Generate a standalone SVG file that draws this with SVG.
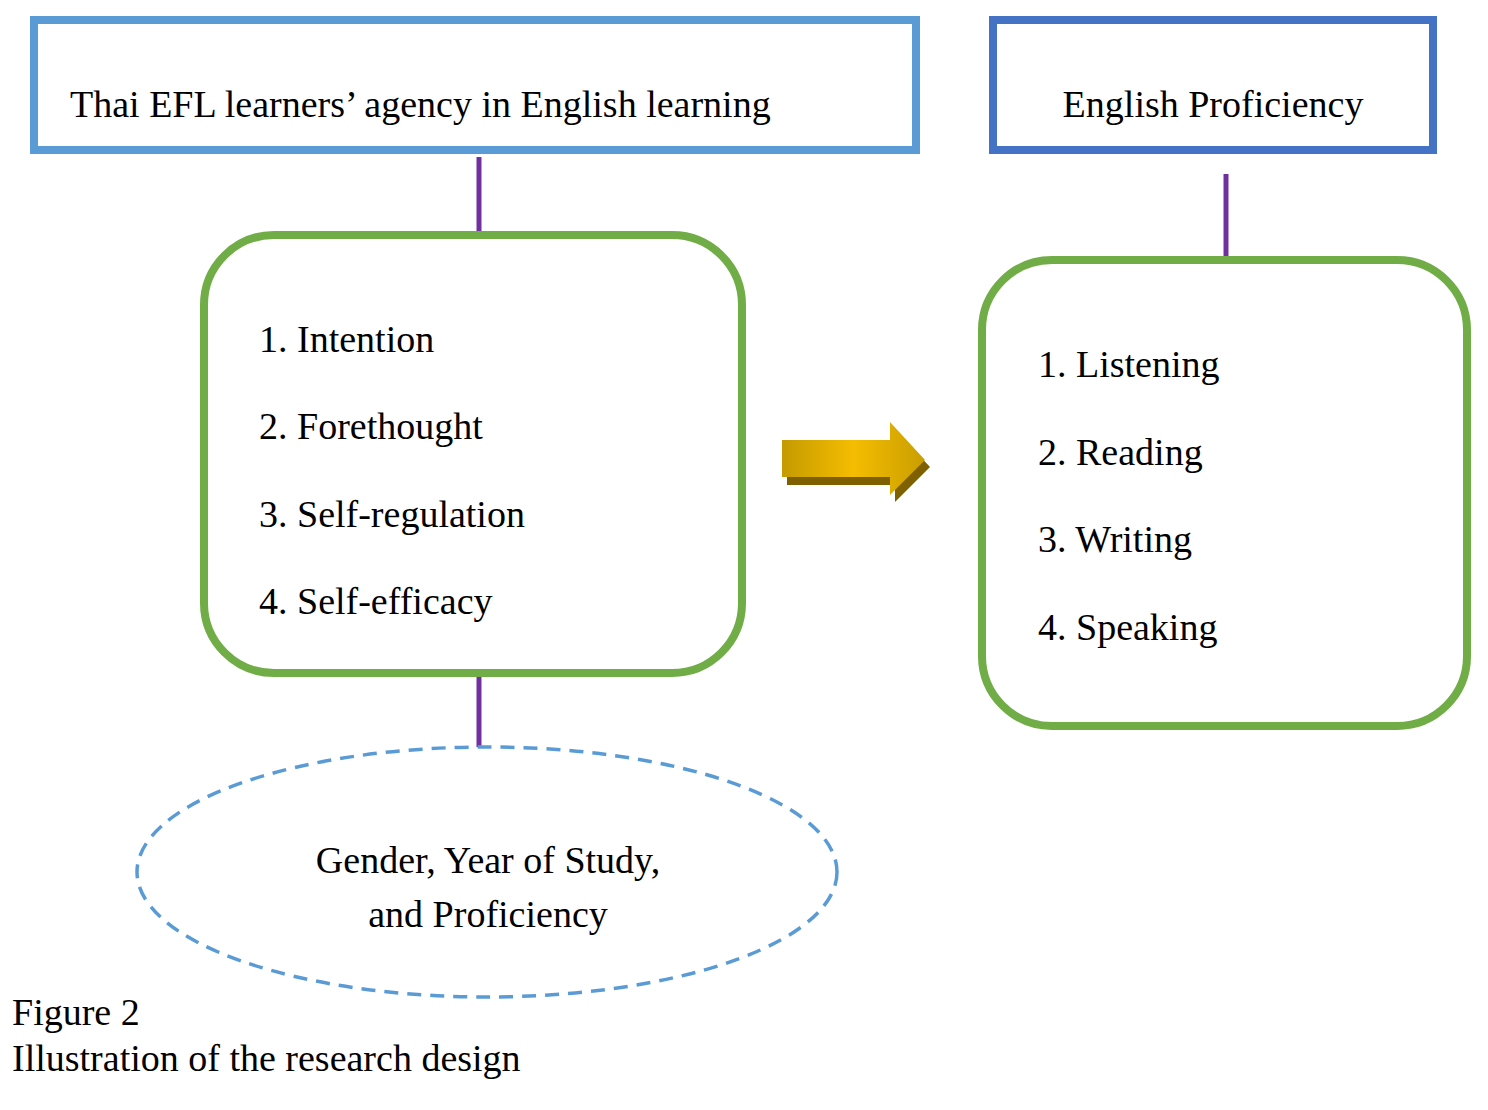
<svg xmlns="http://www.w3.org/2000/svg" width="1488" height="1110" viewBox="0 0 1488 1110">
<style>
text{font-family:"Liberation Serif","Times New Roman",serif;font-size:38px;fill:#000}
.g{fill:#fff;stroke:#70ad47;stroke-width:8}
.c{stroke:#7030a0;stroke-width:5}
</style>
<defs>
<linearGradient id="ag" x1="0" y1="0" x2="1" y2="0">
<stop offset="0" stop-color="#c49a00"/><stop offset="0.5" stop-color="#f5bd00"/><stop offset="1" stop-color="#c99e00"/>
</linearGradient>
</defs>
<rect width="1488" height="1110" fill="#fff"/>
<g id="connectors">
<line class="c" x1="479" y1="157" x2="479" y2="241"/>
<line class="c" x1="1226" y1="174" x2="1226" y2="259"/>
<line class="c" x1="479" y1="664" x2="479" y2="748"/>
<g id="arrow">
<polygon points="787,447 895,447 895,430 930,467 895,502 895,485 787,485" fill="#7f6000"/>
<polygon points="782,440 890,440 890,422 925,460 890,495 890,477 782,477" fill="url(#ag)"/>
</g>
</g>
<g id="agency">
<rect x="34" y="20" width="882" height="130" fill="#fff" stroke="#5b9bd5" stroke-width="8"/>
<text x="70" y="117">Thai EFL learners’ agency in English learning</text>
</g>
<g id="proficiency">
<rect x="993" y="20" width="440" height="130" fill="#fff" stroke="#4472c4" stroke-width="8"/>
<text x="1213" y="117" text-anchor="middle">English Proficiency</text>
</g>
<g id="agency-list">
<rect class="g" x="204" y="235" width="538" height="438" rx="70"/>
<text x="259" y="352">1. Intention</text>
<text x="259" y="439">2. Forethought</text>
<text x="259" y="527">3. Self-regulation</text>
<text x="259" y="614">4. Self-efficacy</text>
</g>
<g id="skills-list">
<rect class="g" x="982" y="260" width="485" height="466" rx="70"/>
<text x="1038" y="377">1. Listening</text>
<text x="1038" y="465">2. Reading</text>
<text x="1038" y="552">3. Writing</text>
<text x="1038" y="640">4. Speaking</text>
</g>
<g id="factors">
<ellipse cx="487" cy="872" rx="350" ry="125" fill="#fff" stroke="#5b9bd5" stroke-width="3.5" stroke-dasharray="14 9"/>
<text x="488" y="873" text-anchor="middle">Gender, Year of Study,</text>
<text x="488" y="927" text-anchor="middle">and Proficiency</text>
</g>
<g id="caption">
<text x="12" y="1025">Figure 2</text>
<text x="12" y="1071">Illustration of the research design</text>
</g>
</svg>
